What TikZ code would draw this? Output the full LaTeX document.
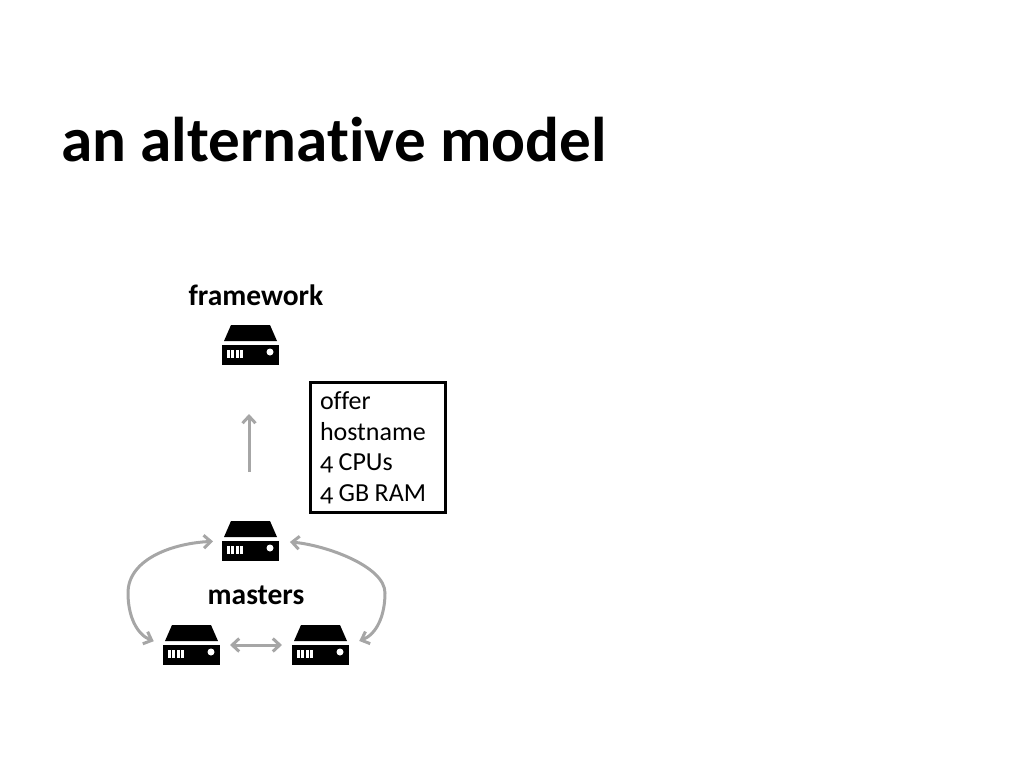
\documentclass[tikz,border=0pt]{standalone}
\usepackage{xcolor}
\usepackage{fontspec}
\setmainfont[Numbers=OldStyle, Ligatures=CommonOff]{Carlito}
\usetikzlibrary{arrows.meta, positioning, calc}
\definecolor{linkgray}{RGB}{166, 166, 166}
\tikzset{
    server/.style={minimum width=57pt, minimum height=40pt, inner sep=0pt, outer sep=0pt,
        path picture={
            \begin{scope}[shift={(path picture bounding box.center)}]
                \fill[black] (-19.5,-20) -- (19.5,-20) -- (26.5,-4) -- (-26.5,-4) -- cycle;
                \fill[black] (-28.5,0) rectangle (28.5,20);
                \foreach \i in {0,1,2,3} {
                    \fill[white] ({-23.5+4.3*\i},5) rectangle ({-20.5+4.3*\i},13);
                }
                \fill[white] (19.5,7) circle (3.5);
            \end{scope}
        }},
    link/.style={linkgray, line width=3pt, {Straight Barb[length=7pt, width=13pt, line width=3pt]}-{Straight Barb[length=7pt, width=13pt, line width=3pt]}},
    uplink/.style={linkgray, line width=3pt, -{Straight Barb[length=7pt, width=13pt, line width=3pt]}},
    heading/.style={font=\fontsize{29.5}{30}\selectfont\bfseries}
}
\begin{document}
\begin{tikzpicture}[x=1pt, y=-1pt]
    \useasboundingbox (0,0) rectangle (1024,768);

    \node[font=\fontsize{63.2}{66}\selectfont\bfseries, anchor=base west, inner sep=0pt] (title) at (61,161.5) {an alternative model};

    % servers
    \node[server] (framework) at (250.5,345) {};
    \node[server] (mastertop) at (250.5,541) {};
    \node[server] (masterleft) at (191.5,645) {};
    \node[server] (masterright) at (320.5,645) {};

    \node[heading, anchor=base] (frameworklabel) at (256,305) {framework};
    \node[heading, anchor=base] (masterslabel) at (256,604) {masters};

    \node[draw=black, line width=3pt, minimum width=135pt, minimum height=130pt, inner sep=0pt,
        text width=116pt, align=left, font=\fontsize{26}{30.7}\selectfont] (offer) at (378,447.8)
        {\spaceskip=5.5pt\relax offer\\hostname\\4 CPUs\\4 GB RAM};

    % links
    \draw[uplink, shorten <=49pt, shorten >=49pt] ([xshift=-1.5pt]mastertop.north) -- ([xshift=-1.5pt]framework.south);
    \draw[link, shorten <=10pt, shorten >=10pt] (masterleft.east) -- (masterright.west);

    \coordinate (bendleft) at (128,593);
    \coordinate (bendright) at (385,593);
    \draw[link, shorten <=9pt, shorten >=10pt] (mastertop.west) .. controls (175,543) and (128,558) .. (bendleft)
        .. controls (128,615) and (136,634) .. (masterleft.west);
    \draw[link, shorten <=11pt, shorten >=11pt] (mastertop.east) .. controls (325,545) and (385,566) .. (bendright)
        .. controls (385,615) and (377,634) .. (masterright.east);
\end{tikzpicture}
\end{document}
